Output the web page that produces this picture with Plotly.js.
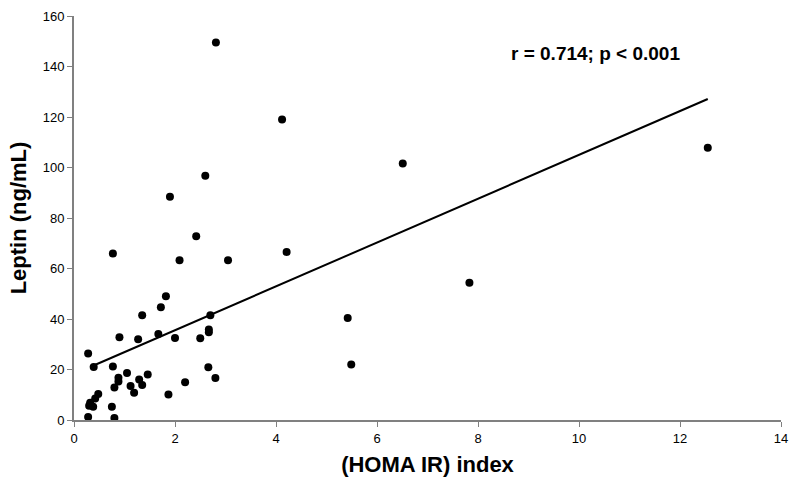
<!DOCTYPE html>
<html>
<head>
<meta charset="utf-8">
<script src="https://cdn.plot.ly/plotly-3.0.1.min.js"></script>
<style>html,body{margin:0;padding:0;background:#fff;}#chart{width:792px;height:489px;}</style>
</head>
<body>
<div id="chart"></div>
<script>
// HOMA IR index (x) and Leptin ng/mL (y)
const homaIR = [0.28,0.39,0.77,0.90,1.35,1.27,1.72,1.82,1.67,2.00,
                2.70,2.50,2.67,2.67,2.66,2.80,2.20,1.87,1.05,1.46,
                1.29,0.88,0.88,0.80,1.12,1.35,1.19,0.48,0.42,0.32,
                0.38,0.30,0.75,0.28,0.80,0.77,1.90,2.09,2.42,2.60,
                2.81,3.05,4.12,4.21,5.42,5.49,6.51,7.83,12.55];
const leptin = [26.3,21.0,21.2,32.8,41.5,32.0,44.7,49.0,34.1,32.5,
                41.5,32.4,35.8,34.8,20.9,16.6,15.0,10.1,18.6,18.0,
                16.0,16.7,15.2,12.9,13.5,13.9,10.8,10.3,8.5,6.8,
                5.2,5.6,5.2,1.2,0.8,65.9,88.4,63.3,72.8,96.7,
                149.5,63.3,119.0,66.5,40.4,22.0,101.6,54.4,107.8];
// linear fit
const fitIntercept = 18.2;
const fitSlope = 8.68;
const fitX = [0.32, 12.55];
const statsText = "r = 0.714; p < 0.001";
const xTicks = [0,2,4,6,8,10,12,14];
const yTicks = [0,20,40,60,80,100,120,140,160];

const fitY = fitX.map(x => fitIntercept + fitSlope * x);

const traces = [
  {x: fitX, y: fitY, mode: 'lines', type: 'scatter',
   line: {color: '#000', width: 2}, hoverinfo: 'skip'},
  {x: homaIR, y: leptin, mode: 'markers', type: 'scatter',
   marker: {color: '#000', size: 8}}
];

const tickFont = {family: 'Liberation Sans Narrow, Liberation Sans, Arial, sans-serif', size: 13, color: '#000'};
const titleFont = {family: 'Liberation Sans, Arial, sans-serif', size: 22, color: '#000', weight: 'bold'};

const layout = {
  width: 792, height: 489,
  margin: {l: 74, r: 11, t: 16, b: 69},
  paper_bgcolor: '#fff', plot_bgcolor: '#fff',
  showlegend: false,
  xaxis: {
    range: [0, 14], tickvals: xTicks, ticktext: xTicks.map(String),
    showgrid: false, zeroline: false, showline: true, linecolor: '#808080', linewidth: 2,
    ticks: 'outside', ticklen: 5, tickcolor: '#808080', tickwidth: 1,
    tickfont: tickFont,
    title: {text: '(HOMA IR) index', font: titleFont, standoff: 12}
  },
  yaxis: {
    range: [0, 160], tickvals: yTicks, ticktext: yTicks.map(String),
    showgrid: false, zeroline: false, showline: true, linecolor: '#808080', linewidth: 2,
    ticks: 'outside', ticklen: 5, tickcolor: '#808080', tickwidth: 1,
    tickfont: tickFont,
    title: {text: 'Leptin (ng/mL)', font: titleFont, standoff: 10}
  },
  annotations: [{
    x: 10.32, y: 145.3, xref: 'x', yref: 'y', text: statsText, showarrow: false,
    font: {family: 'Liberation Sans, Arial, sans-serif', size: 19, color: '#000', weight: 'bold'}
  }]
};

Plotly.newPlot('chart', traces, layout, {displayModeBar: false, staticPlot: true});
</script>
</body>
</html>
